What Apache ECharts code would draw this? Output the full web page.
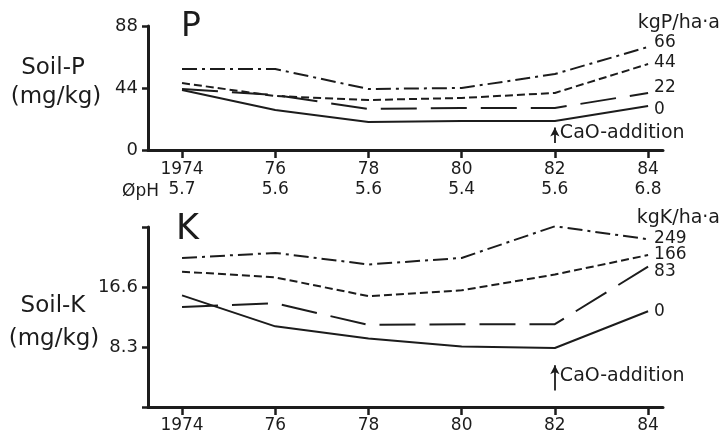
<!DOCTYPE html>
<html>
<head>
<meta charset="utf-8">
<script src="https://cdn.jsdelivr.net/npm/echarts@6/dist/echarts.min.js"></script>
<style>
  html, body { margin: 0; padding: 0; background: #fff; }
  #main { width: 722px; height: 436px; }
</style>
</head>
<body>
<div id="main"></div>
<script>
// years on the x axis, printed short after the first one
var years = [1974, 1976, 1978, 1980, 1982, 1984];
var yearLabels = ['1974', '76', '78', '80', '82', '84'];
var phValues = ['5.7', '5.6', '5.6', '5.4', '5.6', '6.8'];

// soil P, mg/kg, per fertilizer rate (kg P/ha·a)
var pRates = ['66', '44', '22', '0'];
var p66 = [57.5, 57.5, 43.3, 44.0, 53.9, 73.1];
var p44 = [47.5, 38.3, 35.5, 36.9, 40.5, 61.0];
var p22 = [43.3, 39.0, 29.1, 29.8, 29.8, 40.5];
var p0 = [42.6, 28.4, 19.9, 20.6, 20.6, 31.2];
var pTicks = [0, 44, 88];

// soil K, mg/kg, per fertilizer rate (kg K/ha·a)
var kRates = ['249', '166', '83', '0'];
var k249 = [20.7, 21.4, 19.8, 20.7, 25.1, 23.3];
var k166 = [18.8, 18.0, 15.4, 16.2, 18.4, 21.1];
var k83 = [13.9, 14.4, 11.4, 11.5, 11.5, 19.5];
var k0 = [15.5, 11.2, 9.5, 8.4, 8.2, 13.3];
var kTicks = [0, 8.3, 16.6, 25];
var kTickLabels = [8.3, 16.6];

// lime was added in 1982 (arrow from/to, label height)
var caoYear = 1982;
var caoP = [5, 16, 12.1];
var caoK = [2.3, 5.8, 4.3];

var ink = '#1c1c1c';
var font = 'DejaVu Sans';
var dashStyles = [[15, 5, 3, 5], [8, 4], [36, 14], 'solid'];
var endOffsetsP = [[0, -4], [0, -1], [0, -5], [0, 4]];
var endOffsetsK = [[0, -1], [0, -1], [0, 5], [0, 0]];

var chart = echarts.init(document.getElementById('main'), null, { renderer: 'canvas' });

function pairs(vals) {
    return vals.map(function (v, i) { return [years[i], v]; });
}

function makeLine(idx, vals, label, dash, offset, extra) {
    var s = {
        type: 'line',
        xAxisIndex: idx,
        yAxisIndex: idx,
        data: pairs(vals),
        showSymbol: false,
        symbol: 'none',
        clip: false,
        silent: true,
        lineStyle: { color: ink, width: 2, type: dash },
        endLabel: {
            show: true,
            formatter: label,
            color: ink,
            fontFamily: font,
            fontSize: 17,
            distance: 6,
            offset: offset
        }
    };
    return Object.assign(s, extra || {});
}

function caoMarks(arrow) {
    return {
        markLine: {
            silent: true,
            symbol: ['none', 'arrow'],
            symbolSize: [7, 9],
            label: { show: false },
            lineStyle: { color: ink, width: 1.8, type: 'solid' },
            data: [[{ coord: [caoYear, arrow[0]] }, { coord: [caoYear, arrow[1]] }]]
        },
        markPoint: {
            silent: true,
            symbol: 'circle',
            symbolSize: 0,
            label: {
                show: true,
                position: 'right',
                distance: 5,
                formatter: 'CaO-addition',
                color: ink,
                fontFamily: font,
                fontSize: 19
            },
            data: [{ coord: [caoYear, arrow[2]] }]
        }
    };
}

function xAxisCfg(idx, withPh) {
    return {
        type: 'value',
        gridIndex: idx,
        min: 1973.27,
        max: 1984.32,
        axisLine: { lineStyle: { color: ink, width: 3 } },
        axisTick: { customValues: years, length: 8, lineStyle: { color: ink, width: 2.5 } },
        splitLine: { show: false },
        axisLabel: {
            customValues: years,
            margin: withPh ? 10 : 9,
            color: ink,
            fontFamily: font,
            fontSize: 17,
            lineHeight: 20,
            formatter: function (v) {
                var i = years.indexOf(v);
                return withPh ? yearLabels[i] + '\n' + phValues[i] : yearLabels[i];
            }
        }
    };
}

function yAxisCfg(idx, max, ticks, labels, fmt) {
    return {
        type: 'value',
        gridIndex: idx,
        min: 0,
        max: max,
        axisLine: { show: true, lineStyle: { color: ink, width: 3 } },
        axisTick: { show: true, customValues: ticks, length: 6, lineStyle: { color: ink, width: 2.5 } },
        splitLine: { show: false },
        axisLabel: {
            customValues: labels,
            margin: 10,
            color: ink,
            fontFamily: font,
            fontSize: 18,
            formatter: fmt
        }
    };
}

var txt = { fill: ink, fontFamily: font };

var option = {
    backgroundColor: '#fff',
    animation: false,
    grid: [
        { left: 148, right: 59, top: 26, height: 124 },
        { left: 148, right: 59, top: 227, height: 182 }
    ],
    xAxis: [xAxisCfg(0, true), xAxisCfg(1, false)],
    yAxis: [
        yAxisCfg(0, 88, pTicks, pTicks, function (v) { return String(v); }),
        yAxisCfg(1, 25, kTicks, kTickLabels, function (v) { return v.toFixed(1); })
    ],
    graphic: [
        { type: 'text', left: 181, top: 11, style: Object.assign({ text: 'P', fontSize: 33 }, txt) },
        { type: 'text', left: 176, top: 212, style: Object.assign({ text: 'K', fontSize: 35 }, txt) },
        { type: 'text', x: 53, y: 68, style: Object.assign({ text: 'Soil-P', fontSize: 23, align: 'center', verticalAlign: 'middle' }, txt) },
        { type: 'text', x: 56, y: 97, style: Object.assign({ text: '(mg/kg)', fontSize: 23, align: 'center', verticalAlign: 'middle' }, txt) },
        { type: 'text', x: 53, y: 306, style: Object.assign({ text: 'Soil-K', fontSize: 23, align: 'center', verticalAlign: 'middle' }, txt) },
        { type: 'text', x: 54, y: 339, style: Object.assign({ text: '(mg/kg)', fontSize: 23, align: 'center', verticalAlign: 'middle' }, txt) },
        { type: 'text', x: 159, y: 192, style: Object.assign({ text: 'ØpH', fontSize: 17, align: 'right', verticalAlign: 'middle' }, txt) },
        { type: 'text', x: 720, y: 23, style: Object.assign({ text: 'kgP/ha·a', fontSize: 19, align: 'right', verticalAlign: 'middle' }, txt) },
        { type: 'text', x: 720, y: 218, style: Object.assign({ text: 'kgK/ha·a', fontSize: 19, align: 'right', verticalAlign: 'middle' }, txt) }
    ],
    series: [
        makeLine(0, p66, pRates[0], dashStyles[0], endOffsetsP[0]),
        makeLine(0, p44, pRates[1], dashStyles[1], endOffsetsP[1]),
        makeLine(0, p22, pRates[2], dashStyles[2], endOffsetsP[2]),
        makeLine(0, p0, pRates[3], dashStyles[3], endOffsetsP[3], caoMarks(caoP)),
        makeLine(1, k249, kRates[0], dashStyles[0], endOffsetsK[0]),
        makeLine(1, k166, kRates[1], dashStyles[1], endOffsetsK[1]),
        makeLine(1, k83, kRates[2], dashStyles[2], endOffsetsK[2]),
        makeLine(1, k0, kRates[3], dashStyles[3], endOffsetsK[3], caoMarks(caoK))
    ]
};

chart.setOption(option);
</script>
</body>
</html>
